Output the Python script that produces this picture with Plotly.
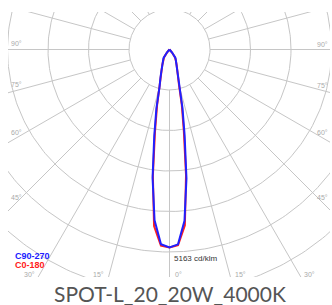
import numpy as np
import plotly.graph_objects as go

# ---------------- data (cd/klm) ----------------
gamma = [0, 2.5, 5, 7.5, 10, 12.5, 15, 17.5, 20, 25, 30, 35, 40, 45, 50, 60, 70, 80, 90,
         100, 110, 120, 130, 140, 150, 160, 170, 180]
I_C0 = [5163, 5110, 4600, 3300, 2150, 1480, 960, 760, 610, 440, 330, 240, 95, 15, 0, 0, 0, 0, 0,
        0, 0, 0, 0, 0, 0, 0, 0, 0]
I_C180 = [5163, 5120, 4620, 3320, 2180, 1500, 970, 770, 615, 445, 335, 245, 98, 15, 0, 0, 0, 0, 0,
          0, 0, 0, 0, 0, 0, 0, 0, 0]
I_C90 = [5163, 5085, 4485, 3390, 2270, 1565, 990, 780, 625, 445, 340, 275, 105, 20, 0, 0, 0, 0, 0,
         0, 0, 0, 0, 0, 0, 0, 0, 0]
I_C270 = [5163, 5080, 4470, 3380, 2290, 1580, 1000, 790, 630, 450, 345, 275, 105, 20, 0, 0, 0, 0, 0,
          0, 0, 0, 0, 0, 0, 0, 0, 0]
peak_label = "5163 cd/klm"
legend_names = ["C90-270", "C0-180"]
title_text = "SPOT-L_20_20W_4000K"
grid_angles = list(range(0, 360, 15))
label_left = [90, 75, 60, 45]
label_right = [90, 75, 60, 45]
label_bottom = [-30, -15, 0, 15, 30]

# ---------------- geometry ----------------
STEP = 1056.0          # cd/klm per grid circle
PX = 40.5              # pixels per grid circle
W, H = 332, 305
cx, cy = 169.5, 49.5   # pole position in pixels
L, R, T, B = 8, 330, 12, 277
xr = [(L - cx) / PX, (R - cx) / PX]
yr = [-(B - cy) / PX, -(T - cy) / PX]


def to_x(px):
    return (px - cx) / PX


def to_y(py):
    return -(py - cy) / PX


def curve(left_vals, right_vals):
    g = np.radians(np.array(gamma, dtype=float))
    rl = np.array(left_vals, dtype=float) / STEP
    rr = np.array(right_vals, dtype=float) / STEP
    xl, yl = -rl * np.sin(g), -rl * np.cos(g)
    xrr, yrr = rr * np.sin(g), -rr * np.cos(g)
    x = np.concatenate([xl[::-1], xrr[1:]])
    y = np.concatenate([yl[::-1], yrr[1:]])
    return x, y


fig = go.Figure()
GRID = "#c6c6c6"

# circles
t = np.linspace(0, 2 * np.pi, 361)
gx, gy = [], []
for k in range(1, 8):
    gx += list(k * np.cos(t)) + [None]
    gy += list(k * np.sin(t)) + [None]
# spokes
for a in grid_angles:
    ar = np.radians(a)
    gx += [np.sin(ar) * 1, np.sin(ar) * 9, None]
    gy += [-np.cos(ar) * 1, -np.cos(ar) * 9, None]
fig.add_trace(go.Scatter(x=gx, y=gy, mode="lines", line=dict(color=GRID, width=1),
                         hoverinfo="skip", showlegend=False))

x0, y0 = curve(I_C180, I_C0)
fig.add_trace(go.Scatter(x=x0, y=y0, mode="lines", line=dict(color="#ff2020", width=2),
                         name=legend_names[1], showlegend=False))
x9, y9 = curve(I_C270, I_C90)
fig.add_trace(go.Scatter(x=x9, y=y9, mode="lines", line=dict(color="#2020ff", width=2),
                         name=legend_names[0], showlegend=False))

ann = []
lab_font = dict(family="Liberation Sans, Arial", size=7, color="#aaaaaa")
for side, xp, up in (("L", 16, 6), ("R", 322, 5)):
    labs = label_left if side == "L" else label_right
    for a in labs:
        X = to_x(xp)
        Y = 0.0 if a == 90 else X / np.tan(np.radians(a))
        Y = -abs(Y) + up / PX
        ann.append(dict(x=X, y=Y, xref="x", yref="y", text=f"{a}°", showarrow=False,
                        font=lab_font, xanchor="center", yanchor="middle"))
for a in label_bottom:
    Y = to_y(274)
    X = -Y * np.tan(np.radians(a))
    if a < 0:
        X -= 3 / PX
        xa = "right"
    else:
        X += 3 / PX
        xa = "left"
    ann.append(dict(x=X, y=Y, xref="x", yref="y", text=f"{abs(a)}°", showarrow=False,
                    font=lab_font, xanchor=xa, yanchor="middle"))

# peak label
ann.append(dict(x=to_x(172), y=to_y(258), xref="x", yref="y", text=peak_label,
                showarrow=False, xanchor="left", yanchor="middle",
                font=dict(family="Liberation Sans, Arial", size=8, color="#333333")))
# legend
ann.append(dict(x=to_x(13), y=to_y(256), xref="x", yref="y",
                text=f"<b>{legend_names[0]}</b>", showarrow=False, xanchor="left", yanchor="middle",
                font=dict(family="Liberation Sans, Arial", size=9, color="#2020ff")))
ann.append(dict(x=to_x(13), y=to_y(264.5), xref="x", yref="y",
                text=f"<b>{legend_names[1]}</b>", showarrow=False, xanchor="left", yanchor="middle",
                font=dict(family="Liberation Sans, Arial", size=9, color="#ff2020")))
# title (paper coordinates, below the plot area)
ann.append(dict(x=(170 - L) / (R - L), y=(B - 293) / (B - T), xref="paper", yref="paper",
                text=title_text, showarrow=False, xanchor="center", yanchor="middle",
                font=dict(family="Lato", size=21, color="#555555")))

fig.update_layout(
    width=W, height=H,
    margin=dict(l=L, r=W - R, t=T, b=H - B, pad=0),
    paper_bgcolor="white", plot_bgcolor="white",
    xaxis=dict(range=xr, visible=False, fixedrange=True),
    yaxis=dict(range=yr, visible=False, fixedrange=True),
    annotations=ann,
    showlegend=False,
)
fig.write_html("out.html", config={"displayModeBar": False},
               post_script="document.body.style.margin='0px';document.body.style.overflow='hidden';")
